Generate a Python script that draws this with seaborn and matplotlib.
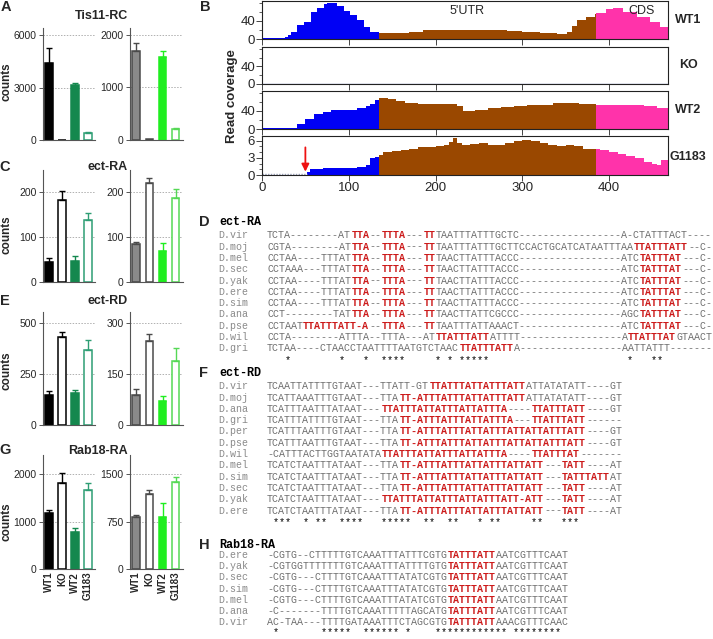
import matplotlib
matplotlib.use('Agg')
import matplotlib.pyplot as plt
import seaborn as sns
import numpy as np
import pandas as pd
from matplotlib.ticker import MultipleLocator

sns.set_theme(style='white')
plt.rcParams['font.family'] = ['Liberation Sans', 'DejaVu Sans']

# ---------------- data ----------------
genotypes = ['WT1', 'KO', 'WT2', 'G1183']

tis11_left_mean = [4400, 0, 3140, 400]
tis11_left_err = [860, 0, 120, 30]
tis11_right_mean = [1695, 12, 1580, 210]
tis11_right_err = [150, 0, 115, 20]

ectRA_left_mean = [45, 182, 47, 138]
ectRA_left_err = [8, 20, 11, 15]
ectRA_right_mean = [84, 221, 70, 186]
ectRA_right_err = [6, 11, 16, 21]

ectRD_left_mean = [145, 431, 157, 370]
ectRD_left_err = [22, 25, 16, 48]
ectRD_right_mean = [87, 249, 72, 190]
ectRD_right_err = [19, 19, 12, 36]

rab18_left_mean = [1177, 1812, 789, 1670]
rab18_left_err = [70, 210, 71, 140]
rab18_right_mean = [829, 1184, 829, 1374]
rab18_right_err = [22, 69, 222, 89]

# read coverage (position, value)
wt1_pos = [0, 10, 20, 27, 30, 33, 40, 48, 56, 63, 71, 75, 79, 86, 94, 102, 109, 117, 125, 130,
           135, 150, 170, 186, 210, 244, 260, 282, 300, 320, 340, 351, 357, 363, 374, 384,
           385, 397, 405, 416, 432, 447, 459, 468]
wt1_val = [3, 3, 3, 4, 9, 16, 31, 38, 59, 69, 77, 80, 80, 74, 63, 52, 41, 27, 16, 15,
           14, 14, 16, 20, 20, 21, 20, 18, 16, 14, 11, 16, 28, 41, 49, 56,
           58, 66, 68, 59, 49, 38, 27, 22]

ko_pos = [0, 468]
ko_val = [0.5, 0.5]

wt2_pos = [0, 10, 20, 30, 40, 50, 60, 70, 80, 90, 100, 110, 120, 125, 130,
           135, 145, 155, 165, 180, 200, 215, 225, 232, 245, 260, 275, 290, 305, 320, 335, 350, 365, 380,
           385, 400, 420, 440, 455, 468]
wt2_val = [2, 2, 2, 3, 12, 23, 33, 38, 41, 42, 43, 47, 50, 55, 64,
           68, 67, 62, 58, 56, 55, 56, 50, 40, 42, 46, 49, 51, 53, 54, 57, 57, 56, 55,
           53, 53, 52, 50, 47, 46]

g1183_pos = [0, 52, 55, 70, 100, 110, 120, 125, 130,
             135, 140, 150, 160, 170, 180, 190, 200, 210, 215, 220, 225, 230, 240, 250, 260, 270,
             280, 290, 300, 310, 320, 330, 340, 350, 360, 370, 380,
             385, 390, 400, 410, 420, 430, 440, 450, 455, 460, 468]
g1183_val = [0.2, 0.5, 1.0, 1.2, 1.2, 1.4, 1.8, 2.9, 3.2,
             3.5, 4.0, 4.2, 4.4, 4.6, 4.8, 4.9, 5.0, 5.2, 5.8, 6.4, 5.5, 5.3, 5.4, 5.6, 5.3, 5.2,
             5.6, 6.0, 6.1, 6.0, 5.6, 5.2, 5.0, 5.3, 5.0, 4.6, 4.5,
             4.5, 4.3, 4.0, 3.7, 3.4, 2.9, 2.3, 2.0, 1.8, 2.6, 2.6]

# alignments: [..] marks red (ARE) stretches
ectRA_names = ['D.vir', 'D.moj', 'D.mel', 'D.sec', 'D.yak', 'D.ere', 'D.sim', 'D.ana', 'D.pse', 'D.wil', 'D.gri']
ectRA_seqs = [
    "TCTA--------AT[TTA]--[TTTA]---[TT]TAATTTATTTGCTC-----------------A-CTATTTACT----",
    "CGTA--------AT[TTA]--[TTTA]---[TT]TAATTTATTTGCTTCCACTGCATCATAATTTAA[TTATTTATT]--C-",
    "CCTAA----TTTAT[TTA]--[TTTA]---[TT]TAACTTATTTACCC-----------------ATC[TATTTAT]---C-",
    "CCTAAA---TTTAT[TTA]--[TTTA]---[TT]TAACTTATTTACCC-----------------ATC[TATTTAT]---C-",
    "CCTAA----TTTAT[TTA]--[TTTA]---[TT]TAACTTATTTACCC-----------------ATC[TATTTAT]---C-",
    "CCTAA----TTTAT[TTA]--[TTTA]---[TT]TAACTTATTTACCC-----------------ATC[TATTTAT]---C-",
    "CCTAA----TTTAT[TTA]--[TTTA]---[TT]TAACTTATTTACCC-----------------ATC[TATTTAT]---C-",
    "CCT--------TAT[TTA]--[TTTA]---[TT]TAACTTATTCGCCC-----------------AGC[TATTTAT]---C-",
    "CCTAAT[TTATTTATT-A]--[TTTA]---[TT]TAATTTATTAAACT-----------------ATC[TATTTAT]---C-",
    "CCTA--------ATTTA--TTTA---AT[TTATTTATT]ATTTT-----------------A[TTATTTAT]GTAACT",
    "TCTAA----CTAACCTAATTTTAATGTCTAAC[TTATTTATT]A-----------------AATTATTT-------",
]
ectRA_stars = [3, 12, 16, 19, 20, 21, 22, 28, 30, 32, 33, 34, 35, 36, 60, 64, 65]

ectRD_names = ['D.vir', 'D.moj', 'D.ana', 'D.gri', 'D.per', 'D.pse', 'D.wil', 'D.mel', 'D.sim', 'D.sec', 'D.yak', 'D.ere']
ectRD_seqs = [
    "TCAATTATTTTGTAAT---TTATT-GT[TTATTTATTATTTATT]ATTATATATT----GT",
    "TCATTAAATTTGTAAT---TTA[TT-ATTTATTTATTATTTATT]ATTATATATT----GT",
    "TCATTTAATTTATAAT---[TTATTTATTATTTATTATTTA]----[TTATTTATT]----GT",
    "TCATTTATTTTGTAAT---TTA[TT-ATTTATTTATTATTTA]---[TTATTTATT]------",
    "TCATTTAATTTGTAAT---TTA[TT-ATTTATTTATTATTTATTATTATTTATT]----GT",
    "TCATTTAATTTGTAAT---TTA[TT-ATTTATTTATTATTTATTATTATTTATT]----GT",
    "-CATTTACTTGGTAATATA[TTATTTATTATTTATTATTTA]----[TTATTTAT]-------",
    "TCATCTAATTTATAAT---TTA[TT-ATTTATTTATTATTTATTATT]---[TATT]----AT",
    "TCATCTAATTTATAAT---TTA[TT-ATTTATTTATTATTTATTATT]---[TATTTATT]AT",
    "TCATCTAATTTATAAT---TTA[TT-ATTTATTTATTATTTATTATT]---[TATT]----AT",
    "TCATCTAATTTATAAT---[TTATTTATTATTTATTATTTATT-ATT]---[TATT]----AT",
    "TCATCTAATTTATAAT---TTA[TT-ATTTATTTATTATTTATTATT]---[TATT]----AT",
]
ectRD_stars = [1, 2, 3, 6, 8, 9, 12, 13, 14, 15, 19, 20, 21, 22, 23, 26, 27, 30, 31, 35, 37, 38, 44, 45, 49, 50, 51]

rab18_names = ['D.ere', 'D.yak', 'D.sec', 'D.sim', 'D.mel', 'D.ana', 'D.vir']
rab18_seqs = [
    "-CGTG--CTTTTTGTCAAATTTATTTCGTG[TATTTATT]AATCGTTTCAAT",
    "-CGTGGTTTTTTTGTCAAATTTATTTTGTG[TATTTATT]AATCGTTTCAAT",
    "-CGTG---CTTTTGTCAAATTTATATCGTG[TATTTATT]AATCGTTTCAAT",
    "-CGTG---CTTTTGTCAAATTTATATCGTG[TATTTATT]AATCGTTTCAAT",
    "-CGTG---CTTTTGTCAAATTTATATCGTG[TATTTATT]AATCGTTTCAAT",
    "-C-------TTTTGTCAAATTTTTAGCATG[TATTTATT]AATCGTTTCAAT",
    "AC-TAA---TTTTGATAAATTTCTAGCGTG[TATTTATT]AAACGTTTCAAC",
]
rab18_stars = [1, 9, 10, 11, 12, 13, 16, 17, 18, 19, 20, 21, 23] + list(range(28, 40)) + list(range(41, 49))

# ---------------- layout helpers ----------------
W, H = 713, 639
fig = plt.figure(figsize=(W / 100, H / 100), dpi=100)


def box(x0, y0, x1, y1):
    return [x0 / W, 1 - y1 / H, (x1 - x0) / W, (y1 - y0) / H]


left_face = ['black', 'white', '#14884e', 'white']
left_edge = ['black', 'black', '#14884e', '#2e9e74']
right_face = ['#8a8a8a', 'white', '#1fee1f', 'white']
right_edge = ['#4a4a4a', '#4a4a4a', '#1fee1f', '#55d855']


def bar_panel(rect, means, errs, face, edge, ymax, ticks, xlabels=False):
    ax = fig.add_axes(box(*rect))
    df = pd.DataFrame({'g': genotypes, 'v': means})
    sns.barplot(data=df, x='g', y='v', hue='g', palette=face, ax=ax, width=0.55,
                legend=False, errorbar=None, saturation=1)
    for p, fc, ec in zip(ax.patches, face, edge):
        p.set_facecolor(fc)
        p.set_edgecolor(ec)
        p.set_linewidth(1.1)
        p.set_zorder(2)
    for i in range(4):
        if errs[i] > 0:
            ax.errorbar(i, means[i], yerr=[[0], [errs[i]]], fmt='none', ecolor=edge[i],
                        elinewidth=1, capsize=2.5, capthick=1, zorder=3)
    for t in ticks[1:]:
        ax.axhline(t, color='#b0b0b0', ls=(0, (1.5, 1.5)), lw=0.7, zorder=0)
    ax.set_xlim(-0.46, 3.54)
    ax.set_ylim(0, ymax)
    ax.set_yticks(ticks)
    ax.set_yticklabels([str(t) for t in ticks])
    ax.set_xlabel('')
    ax.set_ylabel('')
    for s in ['top', 'right']:
        ax.spines[s].set_visible(False)
    for s in ['left', 'bottom']:
        ax.spines[s].set_color('#555555')
        ax.spines[s].set_linewidth(0.8)
    ax.tick_params(axis='y', length=3, width=0.7, color='#555555', labelsize=7.5, pad=1.5, left=True)
    ax.tick_params(axis='x', length=0, pad=2)
    if xlabels:
        ax.set_xticks(range(4))
        ax.set_xticklabels(genotypes, rotation=90, fontsize=7, fontweight='bold')
    else:
        ax.set_xticklabels([])
    ax.patch.set_alpha(0)
    return ax


# Panel A
bar_panel((43, 28, 95, 140), tis11_left_mean, tis11_left_err, left_face, left_edge, 6400, [0, 3000, 6000])
bar_panel((130, 28, 183, 140), tis11_right_mean, tis11_right_err, right_face, right_edge, 2133, [0, 1000, 2000])
# Panel C
bar_panel((43, 170, 95, 282), ectRA_left_mean, ectRA_left_err, left_face, left_edge, 249, [0, 100, 200])
bar_panel((130, 170, 183, 282), ectRA_right_mean, ectRA_right_err, right_face, right_edge, 249, [0, 100, 200])
# Panel E
bar_panel((43, 312, 95, 425), ectRD_left_mean, ectRD_left_err, left_face, left_edge, 555, [0, 250, 500])
bar_panel((130, 312, 183, 425), ectRD_right_mean, ectRD_right_err, right_face, right_edge, 333, [0, 150, 300])
# Panel G
bar_panel((43, 455, 95, 569), rab18_left_mean, rab18_left_err, left_face, left_edge, 2410, [0, 1000, 2000], True)
bar_panel((130, 455, 183, 569), rab18_right_mean, rab18_right_err, right_face, right_edge, 1808, [0, 750, 1500], True)

# Panel B coverage tracks
BLUE, BROWN, PINK = '#0000f5', '#9a4800', '#ff33aa'
regions = [(0, 135, BLUE), (135, 385, BROWN), (385, 468, PINK)]
tracks = [
    (wt1_pos, wt1_val, (1, 39), 84, [0, 40], 20),
    (ko_pos, ko_val, (47, 84), 84, [0, 40], 20),
    (wt2_pos, wt2_val, (91, 129), 84, [0, 40], 20),
    (g1183_pos, g1183_val, (136, 175), 6.8, [0, 3, 6], 1),
]
for k, (pos, val, (y0, y1), ymax, yt, ymin) in enumerate(tracks):
    ax = fig.add_axes(box(262, y0, 668, y1))
    pos = np.array(pos, float)
    val = np.array(val, float)
    if k == 1:
        ax.plot(pos, val, color='#8c9ccc', lw=1.0)
    else:
        for a, b, c in regions:
            m = (pos >= a) & (pos <= b)
            if k == 3 and a == 0:
                m = m & (pos >= 52)
            ax.fill_between(pos[m], val[m], step='post', color=c, lw=0)
        if k == 3:
            ax.plot([0, 52], [0.15, 0.15], color='#9aa0b8', lw=1, ls=(0, (1, 1)))
            ax.annotate('', xy=(50, 0.1), xytext=(50, 5.3),
                        arrowprops=dict(arrowstyle='-|>', color='#ee1111', lw=1.3, mutation_scale=11))
    ax.set_xlim(0, 468)
    ax.set_ylim(0, ymax)
    ax.set_xticks([0, 100, 200, 300, 400])
    ax.set_yticks(yt)
    ax.yaxis.set_minor_locator(MultipleLocator(ymin))
    for s in ax.spines.values():
        s.set_color('#222222')
        s.set_linewidth(0.8)
    ax.tick_params(axis='both', which='major', direction='out', length=4, width=0.7,
                   color='#444444', labelsize=9.5, pad=1, left=True, bottom=True)
    ax.tick_params(axis='y', which='minor', direction='out', length=2.5, width=0.6,
                   color='#444444', left=True)
    if k < 3:
        ax.set_xticklabels([])
    ax.patch.set_alpha(0)

# ---------------- text overlay ----------------
tx = fig.add_axes([0, 0, 1, 1])
tx.set_xlim(0, W)
tx.set_ylim(H, 0)
tx.axis('off')
tx.patch.set_visible(False)

bold = dict(fontweight='bold')
for letter, x, y in [('A', 6, 7), ('C', 5, 167), ('E', 5, 301), ('G', 5, 450),
                     ('B', 205, 7), ('D', 204, 222), ('F', 204, 373), ('H', 204, 545)]:
    tx.text(x, y, letter, fontsize=10.5, ha='center', va='center', **bold)

for title, y in [('Tis11-RC', 16), ('ect-RA', 167), ('ect-RD', 301), ('Rab18-RA', 451)]:
    tx.text(128, y, title, fontsize=9, ha='right', va='center', **bold)

for y in [82, 235, 371, 522]:
    tx.text(7, y, 'counts', fontsize=8.5, rotation=90, ha='center', va='center', **bold)

tx.text(232, 96, 'Read coverage', fontsize=9.5, rotation=90, ha='center', va='center', **bold)
tx.text(467, 11, "5'UTR", fontsize=9, ha='center', va='center')
tx.text(642, 11, 'CDS', fontsize=9, ha='center', va='center')
for lab, y in [('WT1', 20), ('KO', 65), ('WT2', 110), ('G1183', 157)]:
    tx.text(688, y, lab, fontsize=9, ha='center', va='center', **bold)

MONO = 'Liberation Mono'
X0, CW = 267.0, 6.02
NAME_X = 218


def parse(s):
    runs, buf, red, idx, start = [], '', False, 0, 0
    for ch in s:
        if ch in '[]':
            if buf:
                runs.append((start, buf, red))
            buf = ''
            red = (ch == '[')
            start = idx
        else:
            if not buf:
                start = idx
            buf += ch
            idx += 1
    if buf:
        runs.append((start, buf, red))
    return runs


def alignment(title, ytitle, names, seqs, stars, yfirst, step, star_base=None):
    tx.text(219, ytitle, title, family=MONO, fontsize=8.5, fontweight='bold',
            ha='left', va='center', color='black')
    for i, (nm, sq) in enumerate(zip(names, seqs)):
        yb = yfirst + i * step + 3.3
        tx.text(NAME_X, yb, nm, family=MONO, fontsize=7.2, color='#8a8a8a', ha='left', va='baseline')
        for st, run, red in parse(sq):
            tx.text(X0 + st * CW, yb, run, family=MONO, fontsize=7.2,
                    color='#cc1a1a' if red else '#6e6e6e',
                    fontweight='bold' if red else 'normal', ha='left', va='baseline')
    line = [' '] * (max(stars) + 1)
    for s in stars:
        line[s] = '*'
    if star_base is None:
        star_base = yfirst + len(names) * step + 4.5
    tx.text(X0, star_base, ''.join(line), family=MONO, fontsize=7.2,
            color='black', ha='left', va='baseline')


alignment('ect-RA', 222, ectRA_names, ectRA_seqs, ectRA_stars, 235, 11.3)
alignment('ect-RD', 373, ectRD_names, ectRD_seqs, ectRD_stars, 386, 11.3)
alignment('Rab18-RA', 545, rab18_names, rab18_seqs, rab18_stars, 555, 11.1, star_base=636.3)

fig.savefig('out.png', dpi=100)
